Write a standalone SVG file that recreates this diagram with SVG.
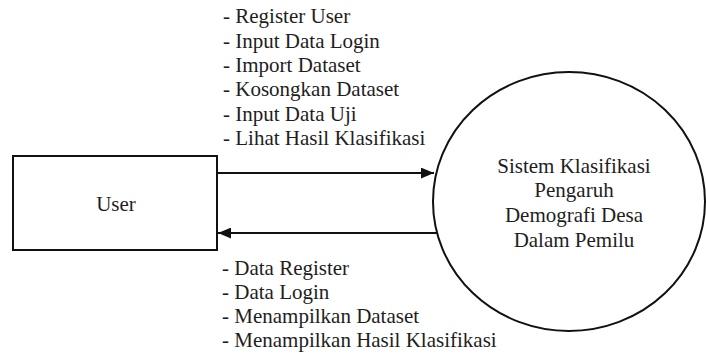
<svg xmlns="http://www.w3.org/2000/svg" width="706" height="354" viewBox="0 0 706 354">
<defs>
<style>
text{font-family:"Liberation Serif","Times New Roman",serif;font-size:21px;fill:#1e1e1e}
.c{text-anchor:middle}
.s{fill:none;stroke:#111;stroke-width:2}
</style>
<marker id="a" viewBox="0 0 12 10" refX="12" refY="5" markerWidth="13" markerHeight="11" markerUnits="userSpaceOnUse" orient="auto">
<path d="M0,0 L12,5 L0,10 z" fill="#111"/>
</marker>
</defs>
<rect width="706" height="354" fill="#fff"/>
<g id="user">
<rect class="s" x="13" y="156" width="204" height="94"/>
<text class="c" x="116" y="211">User</text>
</g>
<g id="system">
<ellipse class="s" cx="569" cy="201.5" rx="136" ry="129.5"/>
<text class="c" x="574" y="173">Sistem Klasifikasi</text>
<text class="c" x="574" y="197">Pengaruh</text>
<text class="c" x="574" y="222">Demografi Desa</text>
<text class="c" x="574" y="247">Dalam Pemilu</text>
</g>
<g id="connectors">
<line class="s" x1="217" y1="173" x2="434" y2="173" marker-end="url(#a)"/>
<line class="s" x1="437" y1="233" x2="218" y2="233" marker-end="url(#a)"/>
</g>
<g id="labels-in">
<text x="223" y="23">- Register User</text>
<text x="223" y="47.5">- Input Data Login</text>
<text x="223" y="72">- Import Dataset</text>
<text x="223" y="96">- Kosongkan Dataset</text>
<text x="223" y="120.5">- Input Data Uji</text>
<text x="223" y="145">- Lihat Hasil Klasifikasi</text>
</g>
<g id="labels-out">
<text x="222" y="275">- Data Register</text>
<text x="222" y="299">- Data Login</text>
<text x="222" y="323">- Menampilkan Dataset</text>
<text x="222" y="347">- Menampilkan Hasil Klasifikasi</text>
</g>
</svg>
